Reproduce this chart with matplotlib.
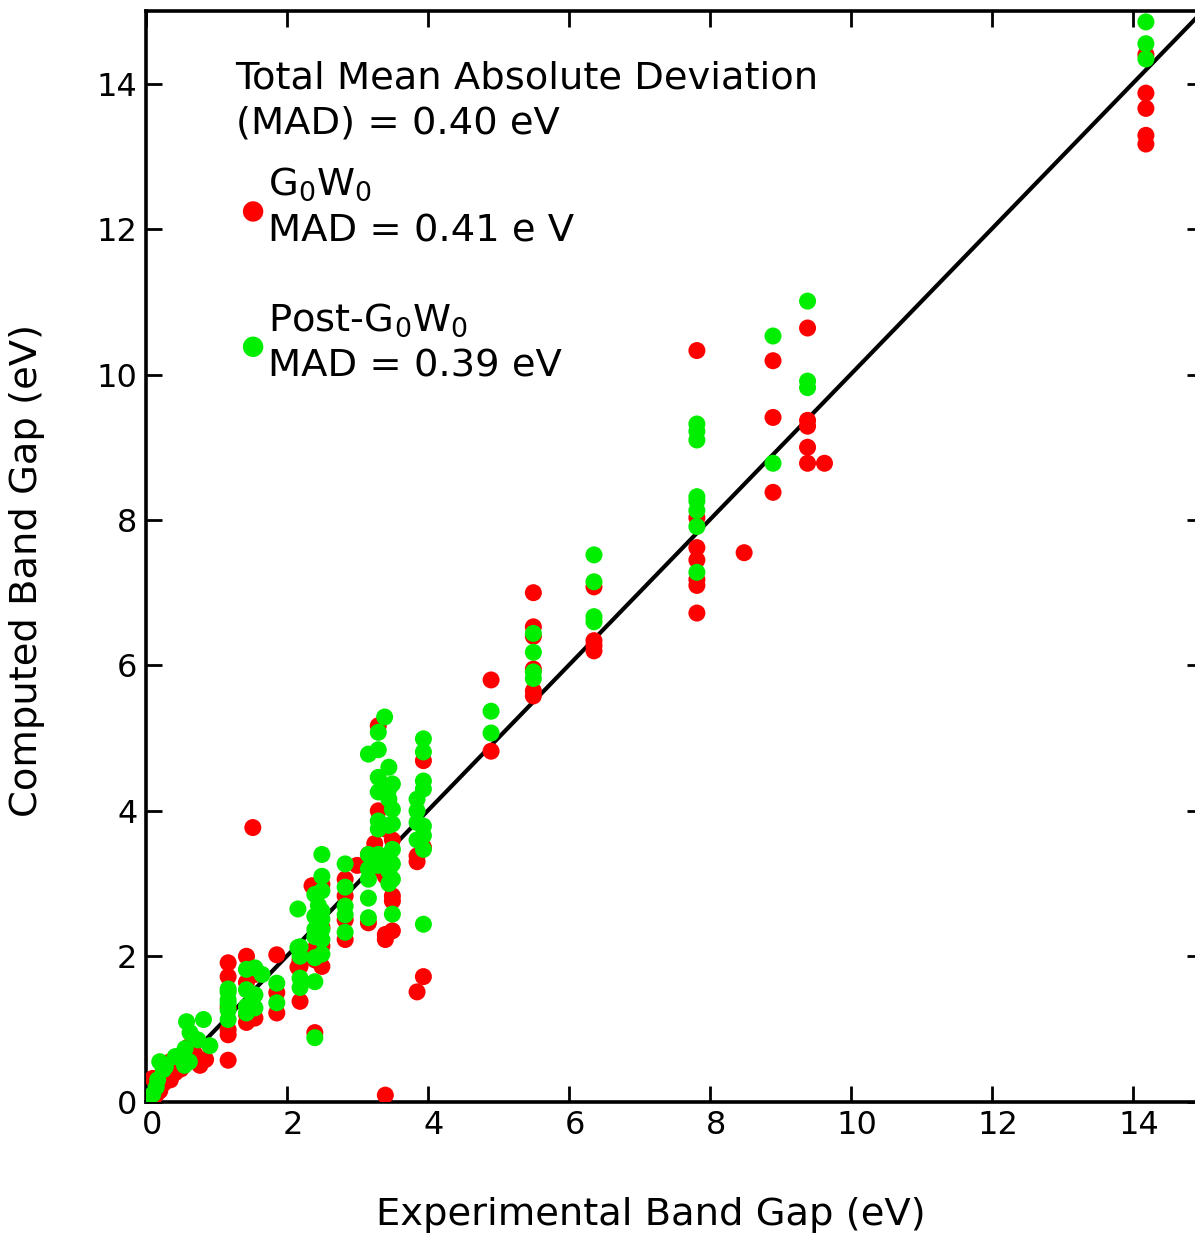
import matplotlib
matplotlib.use("Agg")
import matplotlib.pyplot as plt
import matplotlib.transforms as mtransforms
import numpy as np

# G0W0 (red) points: experimental gap, computed gap
g0w0_x = [0.10, 0.15, 0.20, 0.10, 0.25, 0.35, 0.42, 0.50, 0.60, 0.77, 0.85, 0.70, 0.60, 0.35,
          1.17, 1.17, 1.17, 1.17, 1.17, 1.17, 1.43, 1.43, 1.43, 1.43, 1.55, 1.52, 1.55,
          1.86, 1.86, 1.86, 2.19, 2.19, 2.19, 2.16, 2.40, 2.40, 2.36, 2.40, 2.45, 2.50,
          2.50, 2.50, 2.50, 2.83, 2.83, 2.83, 2.83, 3.00, 3.16, 3.16, 3.25, 3.30, 3.30,
          3.30, 3.40, 3.40, 3.40, 3.40, 3.40, 3.50, 3.50, 3.50, 3.50, 3.85, 3.85, 3.85,
          3.94, 3.94, 3.94, 4.90, 4.90, 5.50, 5.50, 5.50, 5.50, 5.50, 5.50, 6.36, 6.36,
          6.36, 6.36, 7.82, 7.82, 7.82, 7.82, 7.82, 7.82, 7.82, 8.49, 8.90, 8.90, 8.90,
          9.39, 9.39, 9.39, 9.39, 9.39, 9.63, 14.19, 14.19, 14.19, 14.19, 14.19]
g0w0_y = [0.02, 0.10, 0.15, 0.32, 0.25, 0.30, 0.40, 0.45, 0.55, 0.50, 0.58, 0.65, 0.75, 0.55,
          0.57, 0.92, 0.99, 1.72, 1.91, 1.30, 2.00, 1.64, 1.09, 1.20, 1.15, 3.77, 1.75,
          2.02, 1.22, 1.50, 1.86, 1.38, 1.95, 1.85, 0.95, 1.95, 2.97, 2.10, 2.50, 2.99,
          2.14, 1.86, 2.40, 3.06, 2.83, 2.50, 2.23, 3.25, 2.46, 3.40, 3.55, 5.17, 4.00,
          3.20, 3.75, 3.10, 2.23, 2.30, 0.09, 2.83, 2.76, 2.35, 3.60, 3.30, 3.38, 1.51,
          1.72, 4.69, 3.50, 5.80, 4.82, 7.00, 6.53, 6.40, 5.95, 5.65, 5.58, 7.08, 6.34,
          6.27, 6.20, 10.33, 8.03, 7.62, 7.45, 7.18, 7.10, 6.72, 7.55, 10.19, 9.41, 8.38,
          10.64, 9.37, 9.29, 9.00, 8.78, 8.78, 14.40, 13.87, 13.66, 13.29, 13.17]

# Post-G0W0 (green) points
post_x = [0.00, 0.10, 0.15, 0.17, 0.25, 0.20, 0.28, 0.42, 0.56, 0.63, 0.58, 0.82, 0.91, 0.74,
          0.55, 0.62, 1.17, 1.17, 1.17, 1.17, 1.17, 1.17, 1.43, 1.43, 1.43, 1.43, 1.55,
          1.55, 1.55, 1.65, 1.86, 1.86, 2.19, 2.19, 2.19, 2.19, 2.16, 2.16, 2.40, 2.40,
          2.40, 2.40, 2.40, 2.40, 2.40, 2.45, 2.45, 2.50, 2.50, 2.50, 2.50, 2.50, 2.50,
          2.50, 2.50, 2.83, 2.83, 2.83, 2.83, 2.83, 3.16, 3.16, 3.16, 3.16, 3.16, 3.16,
          3.30, 3.30, 3.30, 3.30, 3.30, 3.30, 3.30, 3.30, 3.39, 3.45, 3.45, 3.45, 3.45,
          3.45, 3.45, 3.45, 3.50, 3.50, 3.50, 3.50, 3.50, 3.50, 3.50, 3.85, 3.85, 3.85,
          3.85, 3.94, 3.94, 3.94, 3.94, 3.94, 3.94, 3.94, 3.94, 4.90, 4.90, 5.50, 5.50,
          5.50, 5.50, 6.36, 6.36, 6.36, 6.36, 7.82, 7.82, 7.82, 7.82, 7.82, 7.82, 7.82,
          7.82, 8.90, 8.90, 9.39, 9.39, 9.39, 14.19, 14.19, 14.19]
post_y = [0.00, 0.10, 0.20, 0.30, 0.44, 0.55, 0.48, 0.62, 0.73, 0.95, 1.10, 1.13, 0.77, 0.85,
          0.50, 0.55, 1.51, 1.40, 1.26, 1.13, 1.35, 1.55, 1.82, 1.54, 1.31, 1.22, 1.84,
          1.47, 1.29, 1.75, 1.63, 1.36, 2.13, 2.00, 1.70, 1.57, 2.65, 2.12, 2.27, 1.98,
          1.65, 0.88, 2.55, 2.37, 2.85, 2.70, 2.45, 3.40, 3.10, 2.90, 2.62, 2.51, 2.37,
          2.23, 2.03, 3.27, 2.95, 2.69, 2.57, 2.33, 4.78, 3.40, 3.06, 2.80, 2.53, 3.20,
          5.08, 4.84, 4.46, 4.26, 3.86, 3.75, 3.40, 3.25, 5.29, 4.60, 4.30, 4.16, 3.17,
          3.00, 3.80, 3.35, 4.37, 4.02, 3.82, 3.47, 3.27, 3.06, 2.58, 4.16, 4.00, 3.84,
          3.60, 4.99, 4.81, 4.41, 4.30, 3.79, 3.66, 3.47, 2.44, 5.37, 5.07, 6.44, 6.18,
          5.91, 5.82, 7.52, 7.15, 6.67, 6.60, 9.32, 9.22, 9.10, 8.32, 8.26, 8.13, 7.91,
          7.28, 10.53, 8.78, 11.01, 9.91, 9.82, 14.85, 14.55, 14.34]

ticks = [0, 2, 4, 6, 8, 10, 12, 14]

fig = plt.figure(figsize=(11.95, 12.33), dpi=100)
ax = fig.add_axes([0.1219, 0.1065, 0.8848, 0.8846])

ax.scatter(g0w0_x, g0w0_y, s=150, color='#ff0000', edgecolors='none', zorder=3,
           label='G$_0$W$_0$\nMAD = 0.41 e V')
ax.scatter(post_x, post_y, s=150, color='#00ee00', edgecolors='none', zorder=4,
           label='Post-G$_0$W$_0$\nMAD = 0.39 eV')
ax.plot([0, 15], [0, 15], color='black', lw=3, zorder=2)

ax.set_xlim(0, 15)
ax.set_ylim(0, 15)
ax.set_xticks(ticks)
ax.set_yticks(ticks)
ax.tick_params(direction='in', length=11.5, width=2, labelsize=23, pad=6,
               top=True, right=True)
for sp in ax.spines.values():
    sp.set_linewidth(2.6)

# x tick labels sit a little right of their ticks in the original
shift = mtransforms.ScaledTranslation(0.06, 0, fig.dpi_scale_trans)
for lab in ax.get_xticklabels():
    lab.set_transform(lab.get_transform() + shift)

ax.set_xlabel('Experimental Band Gap (eV)', fontsize=27.7)
ax.set_ylabel('Computed Band Gap (eV)', fontsize=27.7)
ax.xaxis.set_label_coords(0.478, -0.0875)
ax.yaxis.set_label_coords(-0.095, 0.4875)

ax.text(0.085, 0.955, 'Total Mean Absolute Deviation\n(MAD) = 0.40 eV',
        transform=ax.transAxes, fontsize=27.7, va='top', ha='left', linespacing=1.35)

leg = ax.legend(loc='upper left', bbox_to_anchor=(0.0925, 0.858), frameon=False,
                fontsize=27.7, handlelength=0.5, handletextpad=0.15, labelspacing=1.35,
                borderpad=0, borderaxespad=0, scatterpoints=1, markerscale=1.2)
for t in leg.get_texts():
    t.set_linespacing(1.35)

fig.savefig('out.png', dpi=100)
